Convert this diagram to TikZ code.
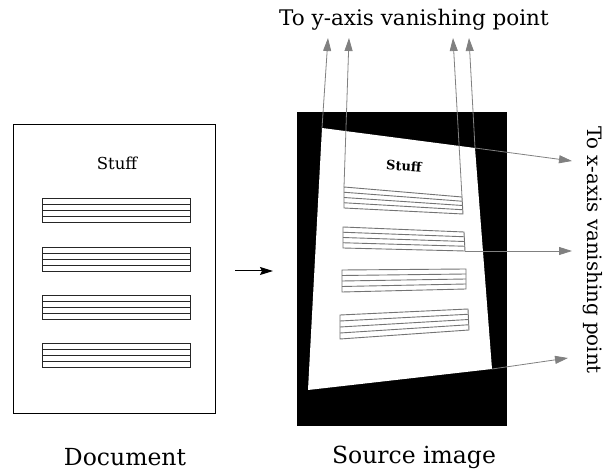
\documentclass[tikz,border=0pt]{standalone}
\usepackage{fontspec}
\setmainfont{DejaVu Serif}
\usetikzlibrary{arrows.meta,calc}

\begin{document}
\begin{tikzpicture}[x=1pt,y=-1pt,>=Stealth,page/.style={draw, line width=0.8pt},strip/.style={draw=black!85, line width=0.9pt},skewstrip/.style={draw=black!55, line width=0.9pt},vanish/.style={-{Triangle[length=13pt,width=8pt]}, draw=gray, line width=0.8pt},label/.style={font=\fontsize{21.5}{25}\selectfont},caption/.style={font=\fontsize{23.5}{28}\selectfont}]
\useasboundingbox (0,0) rectangle (611,470);
% the document
\draw[page] (13,124) rectangle (215,413);
\node (stuffDoc) at (117,163) {\fontsize{16.5}{19}\selectfont Stuff};
\foreach \y in {198,247,295,343} {\draw[strip] (42,\y) rectangle (190,\y+24); \foreach \k in {6,12,18} \draw[strip] (42,\y+\k) -- (190,\y+\k);}
\coordinate (arrS) at (235,271); \coordinate (arrE) at (273,271);
\draw[-{Stealth[length=13pt,width=8pt,inset=2pt]}, line width=1pt] (arrS) -- (arrE);
% the source image
\fill[black] (297,112) rectangle (507,426);
\coordinate (pTL) at (322,128); \coordinate (pTR) at (475,148); \coordinate (pBR) at (492,369); \coordinate (pBL) at (308,390);
\fill[white] (pTL) -- (pTR) -- (pBR) -- (pBL) -- cycle;
\node[rotate=-4] (stuffSrc) at (404,166) {\fontsize{13}{16}\selectfont\bfseries Stuff};
\foreach \ax/\ay/\bx/\by/\cx/\cy/\dx/\dy in {344/187/462/197/463/214/344/208, 343/227/464/232/465/251/343/248, 342/270/466/269/466/289/342/292, 340/315/468/309/469/330/340/339} {\draw[skewstrip] (\ax,\ay) -- (\bx,\by) -- (\cx,\cy) -- (\dx,\dy) -- cycle; \foreach \k in {1,2,3} \draw[skewstrip] ($(\ax,\ay)!\k/4!(\dx,\dy)$) -- ($(\bx,\by)!\k/4!(\cx,\cy)$);}
\coordinate (boxTL) at (344,187); \coordinate (boxTR) at (462,197); \coordinate (boxBR) at (465,251);
% vanishing directions
\coordinate (yA) at (328,38); \coordinate (yB) at (349,38); \coordinate (yC) at (453,38); \coordinate (yD) at (469,38);
\coordinate (xA) at (572,161); \coordinate (xB) at (572,251); \coordinate (xC) at (568,358);
\draw[vanish] (pTL) -- (yA); \draw[vanish] (boxTL) -- (yB); \draw[vanish] (boxTR) -- (yC); \draw[vanish] (pTR) -- (yD);
\draw[vanish] (pTR) -- (xA); \draw[vanish] (boxBR) -- (xB); \draw[vanish] (pBR) -- (xC);
\node[label] (yLabel) at (414,20) {To y-axis vanishing point};
\node[font=\fontsize{19.8}{23}\selectfont, rotate=-90] (xLabel) at (593,250) {To x-axis vanishing point};
\node[caption] (docLabel) at (125,457) {Document};
\node[caption] (srcLabel) at (414,457) {Source image};
\end{tikzpicture}
\end{document}
